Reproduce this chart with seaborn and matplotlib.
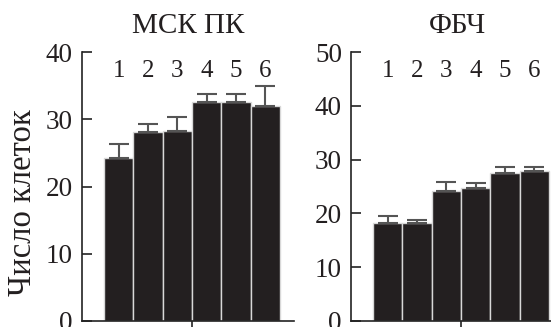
import numpy as np
import pandas as pd
import seaborn as sns
import matplotlib.pyplot as plt

groups = ["1", "2", "3", "4", "5", "6"]

# МСК ПК panel
msk_mean = [24.3, 28.1, 28.3, 32.6, 32.6, 31.9]
msk_err = [2.0, 1.2, 2.1, 1.2, 1.2, 3.1]

# ФБЧ panel
fbs_mean = [18.2, 18.2, 24.2, 24.8, 27.6, 27.9]
fbs_err = [1.4, 0.6, 1.7, 0.9, 1.1, 0.8]

titles = ["МСК ПК", "ФБЧ"]
ylims = [40, 50]

sns.set_style("white")
plt.rcParams['font.family'] = ['Liberation Serif', 'DejaVu Serif']

bar_color = '#231f20'
err_color = '#555555'
txt_color = '#231f20'

fig = plt.figure(figsize=(5.51, 3.27), dpi=100)
ax1 = fig.add_axes([82 / 551, 6 / 327, 212 / 551, 269 / 327])
ax2 = fig.add_axes([351 / 551, 6 / 327, 212 / 551, 269 / 327])

panels = [(ax1, msk_mean, msk_err), (ax2, fbs_mean, fbs_err)]

for k, (ax, means, errs) in enumerate(panels):
    df = pd.DataFrame({'group': groups, 'value': means})
    sns.barplot(data=df, x='group', y='value', color=bar_color, saturation=1,
                width=1, edgecolor='#d8d8d8', linewidth=1, ax=ax)
    xs = np.arange(len(groups))
    ax.errorbar(xs, means, yerr=[np.zeros(len(errs)), errs], fmt='none',
                ecolor=err_color, elinewidth=1.5, capsize=7, capthick=1.5)

    # group numbers above bars
    for i, g in enumerate(groups):
        ax.text(i, 0.929, g, transform=ax.get_xaxis_transform(),
                ha='center', va='center', fontsize=18, color=txt_color)

    ax.set_xlim(-1.25, 5.98)
    ax.set_ylim(0, ylims[k])
    ax.set_yticks(np.arange(0, ylims[k] + 1, 10))
    ax.set_xticks([2.5])
    ax.set_xticklabels([''])
    ax.set_xlabel('')
    ax.set_ylabel('')
    ax.set_title(titles[k], fontsize=21, pad=13.5, color=txt_color)

    for s in ['top', 'right']:
        ax.spines[s].set_visible(False)
    for s in ['left', 'bottom']:
        ax.spines[s].set_color('#222222')
        ax.spines[s].set_linewidth(1.2)
    ax.tick_params(axis='y', direction='in', length=7, width=1.2,
                   labelsize=19.5, pad=6.5, left=True, colors='#222222')
    ax.tick_params(axis='x', direction='out', length=6, width=1.2,
                   bottom=True, colors='#222222')
    for lab in ax.get_yticklabels():
        lab.set_color(txt_color)

ax1.set_ylabel('Число клеток', fontsize=23.5, color=txt_color)
ax1.yaxis.set_label_coords(-(82 - 38) / 212, (321 - 203) / 269)

fig.savefig('out.png', dpi=100)
